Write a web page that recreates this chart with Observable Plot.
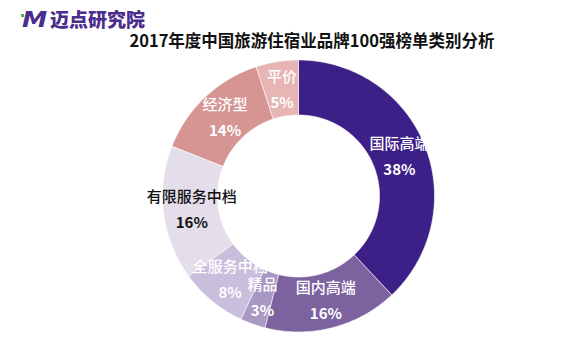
<!DOCTYPE html>
<html>
<head>
<meta charset="utf-8">
<script src="https://cdn.jsdelivr.net/npm/d3@7"></script>
<script src="https://cdn.jsdelivr.net/npm/@observablehq/plot@0.6"></script>
<style>
  html, body { margin: 0; padding: 0; background: #fff; }
  #page { position: relative; width: 576px; height: 357px; overflow: hidden; font-family: "Noto Sans CJK SC", "Noto Sans", sans-serif; }
  #logo { position: absolute; left: 22px; top: 7px; height: 24px; color: #4a2d8c; font-weight: 900; font-size: 19px; line-height: 24px; white-space: nowrap; }
  #logo .m { display: inline-block; width: 28px; font-style: italic; font-family: "DejaVu Sans", sans-serif; font-weight: 700; font-size: 22px; transform: scaleX(1.15); transform-origin: left center; }
  #logo .d { position: absolute; width: 3px; height: 3px; background: #3fb24a; }
  #title { position: absolute; left: 0; top: 29px; width: 576px; padding-left: 48px; box-sizing: border-box; text-align: center; font-weight: 700; font-size: 16.5px; line-height: 22px; color: #111; white-space: nowrap; }
  #chart { position: absolute; left: 0; top: 57px; }
</style>
</head>
<body>
<div id="page">
  <div id="logo"><span class="d" style="left:-1px;top:7px"></span><span class="d" style="left:4px;top:5px"></span><span class="d" style="left:3px;top:10px"></span><span class="m">M</span>迈点研究院</div>
  <div id="title">2017年度中国旅游住宿业品牌100强榜单类别分析</div>
  <div id="chart"></div>
</div>
<script>
const categories = ["国际高端", "国内高端", "精品", "全服务中档", "有限服务中档", "经济型", "平价"];
const shares = [38, 16, 3, 8, 16, 14, 5];
const colors = ["#3c1f87", "#7d62a0", "#a997c4", "#c9bedb", "#e4deeb", "#d69492", "#e7b5b4"];

const R = 136, r0 = 81, rLabel = 108;
const arcs = d3.pie().sort(null).value(d => d)(shares);

// ring segments sampled along each slice's angular span
const ring = [];
arcs.forEach((a, i) => {
  const n = Math.max(2, Math.ceil((a.endAngle - a.startAngle) / (Math.PI / 180)) + 1);
  for (let k = 0; k < n; k++) {
    const t = a.startAngle + (a.endAngle - a.startAngle) * k / (n - 1);
    ring.push({cat: categories[i], ox: R * Math.sin(t), oy: R * Math.cos(t), ix: r0 * Math.sin(t), iy: r0 * Math.cos(t)});
  }
});

const labels = arcs.map((a, i) => {
  const m = (a.startAngle + a.endAngle) / 2;
  return {cat: categories[i], pct: shares[i] + "%", x: rLabel * Math.sin(m), y: rLabel * Math.cos(m)};
});
const dark = d => d.cat === "有限服务中档";
const font = "'Noto Sans CJK SC', 'Noto Sans', sans-serif";

const chart = Plot.plot({
  width: 576,
  height: 300,
  margin: 0,
  x: {domain: [-298.5, 277.5], axis: null},
  y: {domain: [-161, 139], axis: null},
  color: {domain: categories, range: colors},
  style: {fontFamily: font, background: "white"},
  marks: [
    Plot.area(ring, {x1: "ox", y1: "oy", x2: "ix", y2: "iy", z: "cat", fill: "cat", stroke: "white", strokeWidth: 0.6}),
    Plot.text(labels.filter(d => !dark(d)), {x: "x", y: "y", text: "cat", dy: -13, fill: "white", fontSize: 15, fontWeight: 500, fontFamily: font}),
    Plot.text(labels.filter(d => !dark(d)), {x: "x", y: "y", text: "pct", dy: 13, fill: "white", fontSize: 15, fontWeight: "bold", fontFamily: font}),
    Plot.text(labels.filter(dark), {x: "x", y: "y", text: "cat", dy: -13, fill: "#111", fontSize: 15, fontWeight: 500, fontFamily: font}),
    Plot.text(labels.filter(dark), {x: "x", y: "y", text: "pct", dy: 13, fill: "#111", fontSize: 15, fontWeight: "bold", fontFamily: font})
  ]
});
document.getElementById("chart").appendChild(chart);
</script>
</body>
</html>
